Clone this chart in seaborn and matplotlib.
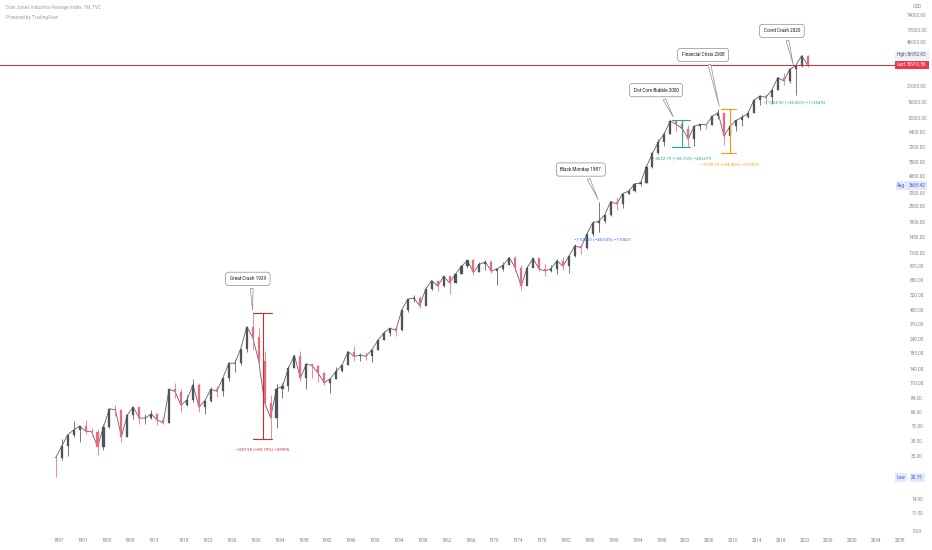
import matplotlib
matplotlib.use("Agg")
import matplotlib.pyplot as plt
import numpy as np
import pandas as pd
import seaborn as sns

# yearly candles (index values, log scale)
years = list(range(1896, 2023))
first_open = 29.80
closes = [
    29.47, 36.00, 44.10, 48.15, 51.52, 47.04, 46.84, 35.78, 50.72, 70.09,
    68.74, 42.81, 62.77, 72.17, 59.28, 59.51, 64.02, 57.40, 54.58, 99.15,
    95.00, 74.38, 82.20, 107.23, 71.95, 81.10, 98.73, 95.52, 120.51, 156.66,
    157.20, 202.40, 300.00, 248.48, 164.58, 77.90, 59.93, 99.90, 104.04, 144.13,
    179.90, 120.85, 154.76, 150.24, 131.13, 110.96, 119.40, 135.89, 152.32, 192.91,
    177.20, 181.16, 177.30, 200.13, 235.41, 269.23, 291.90, 280.90, 404.39, 488.40,
    499.47, 435.69, 583.65, 679.36, 615.89, 731.14, 652.10, 762.95, 874.13, 969.26,
    785.69, 905.11, 943.75, 800.36, 838.92, 890.20, 1020.02, 850.86, 616.24, 852.41,
    1004.65, 831.17, 805.01, 838.74, 963.99, 875.00, 1046.54, 1258.64, 1211.57, 1546.67,
    1895.95, 1938.83, 2168.57, 2753.20, 2633.66, 3168.83, 3301.11, 3754.09, 3834.44, 5117.12,
    6448.27, 7908.25, 9181.43, 11497.12, 10786.85, 10021.50, 8341.63, 10453.92, 10783.01, 10717.50,
    12463.15, 13264.82, 8776.39, 10428.05, 11577.51, 12217.56, 13104.14, 16576.66, 17823.07, 17425.03,
    19762.60, 24719.22, 23327.46, 28538.44, 30606.48, 36338.30, 30910.56,
]
highs = [
    29.90, 40.67, 44.42, 56.55, 51.76, 57.02, 49.87, 49.33, 53.36, 70.35,
    75.05, 70.22, 64.39, 73.25, 71.65, 63.43, 68.60, 64.53, 60.80, 99.21,
    110.15, 99.18, 89.07, 119.62, 109.88, 81.50, 103.43, 105.38, 120.51, 159.39,
    166.64, 202.40, 300.00, 381.17, 294.07, 194.36, 88.78, 108.67, 110.74, 148.44,
    184.90, 194.40, 158.41, 155.92, 152.80, 133.59, 119.71, 145.82, 152.53, 195.82,
    212.50, 186.85, 193.16, 200.52, 235.47, 276.37, 292.00, 293.79, 404.39, 488.40,
    521.05, 520.77, 583.65, 679.36, 685.47, 734.91, 726.01, 767.21, 891.71, 969.26,
    995.15, 943.08, 985.21, 968.85, 842.00, 950.82, 1036.27, 1051.70, 891.66, 881.81,
    1014.79, 999.75, 907.74, 897.61, 1000.17, 1024.05, 1070.55, 1287.20, 1286.64, 1553.10,
    1955.57, 2722.42, 2183.50, 2791.41, 2999.75, 3168.83, 3413.21, 3794.33, 3978.36, 5216.47,
    6560.91, 8259.31, 9374.27, 11568.77, 11750.28, 11350.05, 10673.10, 10462.44, 10868.07, 10984.46,
    12529.88, 14198.10, 13279.54, 10580.33, 11625.00, 12876.00, 13661.87, 16588.25, 18103.45, 18351.36,
    19987.63, 24876.07, 26951.81, 28701.66, 30637.47, 36679.57, 36952.65,
]
lows = [
    20.75, 28.04, 30.60, 42.46, 38.59, 44.82, 43.40, 30.71, 33.81, 50.10,
    62.06, 38.62, 42.71, 58.22, 53.64, 53.14, 58.40, 52.54, 53.17, 54.22,
    84.96, 65.95, 73.38, 79.15, 66.75, 63.90, 78.59, 85.76, 88.33, 115.00,
    135.20, 152.73, 191.33, 198.69, 157.51, 73.79, 41.22, 50.16, 85.51, 96.71,
    143.11, 113.64, 98.95, 121.44, 111.84, 106.34, 92.92, 119.26, 134.22, 151.35,
    163.12, 163.21, 165.39, 161.60, 196.81, 238.99, 256.35, 255.49, 279.87, 388.20,
    462.35, 419.79, 436.89, 574.46, 566.05, 610.25, 535.76, 646.79, 766.08, 840.59,
    744.32, 786.41, 825.13, 769.93, 631.16, 797.97, 889.15, 788.31, 577.60, 632.04,
    858.71, 800.85, 742.12, 796.67, 759.13, 824.01, 776.92, 1027.04, 1086.57, 1184.96,
    1502.29, 1616.21, 1879.14, 2144.64, 2365.10, 2470.30, 3136.58, 3241.95, 3593.35, 3832.08,
    5000.00, 6391.69, 7400.30, 9120.67, 9654.64, 8062.34, 7197.49, 7416.64, 9708.40, 10000.46,
    10661.15, 11939.61, 7449.38, 6469.95, 9614.32, 10404.49, 12035.09, 13104.30, 15340.69, 15370.33,
    15450.56, 19677.94, 21712.53, 22638.41, 18213.65, 29856.30, 29653.29,
]

tick_years = [1897, 1901, 1905, 1909, 1913, 1918, 1922, 1926, 1930, 1934, 1938, 1942,
              1946, 1950, 1954, 1958, 1962, 1966, 1970, 1974, 1978, 1982, 1986, 1990,
              1994, 1998, 2002, 2006, 2010, 2014, 2018, 2022, 2026, 2030, 2034, 2038]
price_ticks = [74000, 57000, 46000, 29000, 21000, 16000, 12000, 9400, 7200, 5500,
               4300, 3200, 2500, 1900, 1450, 1100, 870, 680, 520, 400, 310, 240,
               185, 140, 110, 84, 66, 51, 39, 30, 14, 11, 8]

# callouts: label, box (year, price), target (year, price)
events = ["Great Crash 1929", "Black Monday 1987", "Dot Com Bubble 2000",
          "Financial Crisis 2008", "Covid Crash 2020"]
event_box = [(1928.7, 700), (1984.5, 4850), (1997.1, 19800), (2005.0, 36900), (2018.2, 56500)]
event_target = [(1929.5, 381.17), (1987.6, 2722.42), (2000.2, 11750.28),
                (2007.8, 14198.10), (2020.2, 29568.57)]

# price range measurements: (start, end, mid, top, bottom, label, color)
ranges = [
    (1929.6, 1932.8, 1931.2, 381.17, 41.22, "\u2212339.95 (\u221289.19%) \u221233995", "tab:red"),
    (1999.8, 2002.8, 2001.5, 11750.28, 7197.49, "\u22124552.79 (\u221238.75%) \u2212455279", "#22ab94"),
    (2008.0, 2010.5, 2009.5, 14198.10, 6469.95, "\u22127728.15 (\u221254.43%) \u2212772815", "#ff9800"),
]
small_ranges = [
    (1988.2, 1616.21, "\u22121106.21 (\u221240.63%) \u2212110621", "#2962ff"),
    (2020.2, 18213.65, "\u221211354.92 (\u221238.40%) \u22121135492", "#22ab94"),
]

last_price = 30910.56
high_price = 36952.65
avg_price = 3665.42
low_price = 20.75

sns.set_theme(style="white")
plt.rcParams["font.family"] = ["Roboto", "DejaVu Sans"]

df = pd.DataFrame({"year": years, "close": closes, "high": highs, "low": lows})
df["open"] = [first_open] + closes[:-1]
df["x"] = df["year"] + 0.5
df["up"] = df["close"] >= df["open"]

fig = plt.figure(figsize=(9.32, 5.5), dpi=100)
ax = fig.add_axes([0, 18 / 550, 1, 532 / 550])
ax.set_yscale("log")
ax.set_xlim(1887.16, 2043.35)
ax.set_ylim(7.9, 97700)

up_col, down_col = "#50535e", "#ec6a80"

# thin close path to tie the candles together, like the dense monthly trace
sns.lineplot(data=df, x="x", y="close", ax=ax, color="#5d606b", lw=0.6,
             estimator=None, sort=False, zorder=1)

colors = np.where(df["up"], up_col, down_col)
ax.vlines(df["x"], df["low"], df["high"], colors=colors, lw=0.55, zorder=2)
body_lo = df[["open", "close"]].min(axis=1)
body_hi = df[["open", "close"]].max(axis=1)
ax.bar(df["x"], body_hi - body_lo, bottom=body_lo, width=0.35, color=colors,
       edgecolor=colors, lw=0.2, zorder=3)

ax.plot([1887.16, 2037.4], [last_price, last_price], color="tab:red", lw=0.7, zorder=5)

for x0, x1, xm, top, bot, txt, col in ranges:
    ax.plot([x0, x1], [top, top], color=col, lw=0.8, zorder=4)
    ax.plot([x0, x1], [bot, bot], color=col, lw=0.8, zorder=4)
    ax.plot([xm, xm], [bot, top], color=col, lw=0.8, zorder=4)
    ax.annotate(txt, (xm, bot), xytext=(0, -7.5), textcoords="offset points",
                ha="center", va="center", fontsize=3.2, color=col)
for xm, bot, txt, col in small_ranges:
    ax.annotate(txt, (xm, bot), xytext=(0, -5.5), textcoords="offset points",
                ha="center", va="center", fontsize=3.2, color=col)

for name, (bx, by), (tx, ty) in zip(events, event_box, event_target):
    ax.annotate(name, (tx, ty), xytext=(bx, by), textcoords="data",
                ha="center", va="center", fontsize=3.3, color="#131722", zorder=6,
                bbox=dict(boxstyle="round,pad=0.9,rounding_size=0.6", fc="white",
                          ec="#8a8d96", lw=0.5),
                arrowprops=dict(arrowstyle="wedge,tail_width=0.6", fc="white",
                                ec="#8a8d96", lw=0.5, relpos=(0.6, 0.2)))

# right price scale
lab_x = 0.984
special = [high_price, last_price, avg_price, low_price]
for v in price_ticks:
    if min(abs(np.log10(v) - np.log10(s)) for s in special) < 0.05:
        continue
    ax.text(lab_x, v, f"{v:.2f}", transform=ax.get_yaxis_transform(),
            ha="center", va="center", fontsize=3.4, color="#80838c")
ax.text(lab_x, 1.0 - 6 / 532, "USD", transform=ax.transAxes, ha="center",
        va="center", fontsize=3.4, color="#80838c")

badges = [("High", high_price, "#eef0f5", "#5b5e68"),
          ("Last", last_price, "#f23645", "white"),
          ("Avg", avg_price, "#e3e9fb", "#3d5bc7"),
          ("Low", low_price, "#e3e9fb", "#3d5bc7")]
for tag, v, bg, fg in badges:
    ax.text(0.967, v, tag, transform=ax.get_yaxis_transform(), ha="center",
            va="center", fontsize=3.4, color=fg, zorder=7,
            bbox=dict(boxstyle="square,pad=0.35", fc=bg, ec="none"))
    ax.text(lab_x, v, f"{v:.2f}", transform=ax.get_yaxis_transform(), ha="center",
            va="center", fontsize=3.4, color=fg, zorder=7,
            bbox=dict(boxstyle="square,pad=0.35", fc=bg, ec="none"))

ax.set_xticks(tick_years)
ax.set_xticklabels([str(y) for y in tick_years], fontsize=3.4, color="#80838c")
ax.tick_params(axis="x", length=0, pad=4)
ax.set_xlabel("")
ax.set_ylabel("")
ax.set_yticks([])
ax.yaxis.set_minor_locator(matplotlib.ticker.NullLocator())
for s in ax.spines.values():
    s.set_visible(False)

fig.text(0.006, 0.990, "Dow Jones Industrial Average Index, 1M, TVC", fontsize=3.4,
         color="#9ea1aa", va="top")
fig.text(0.006, 0.973, "Powered by TradingView", fontsize=3.4, color="#9ea1aa", va="top")

fig.savefig("out.png", dpi=100, facecolor="white")
